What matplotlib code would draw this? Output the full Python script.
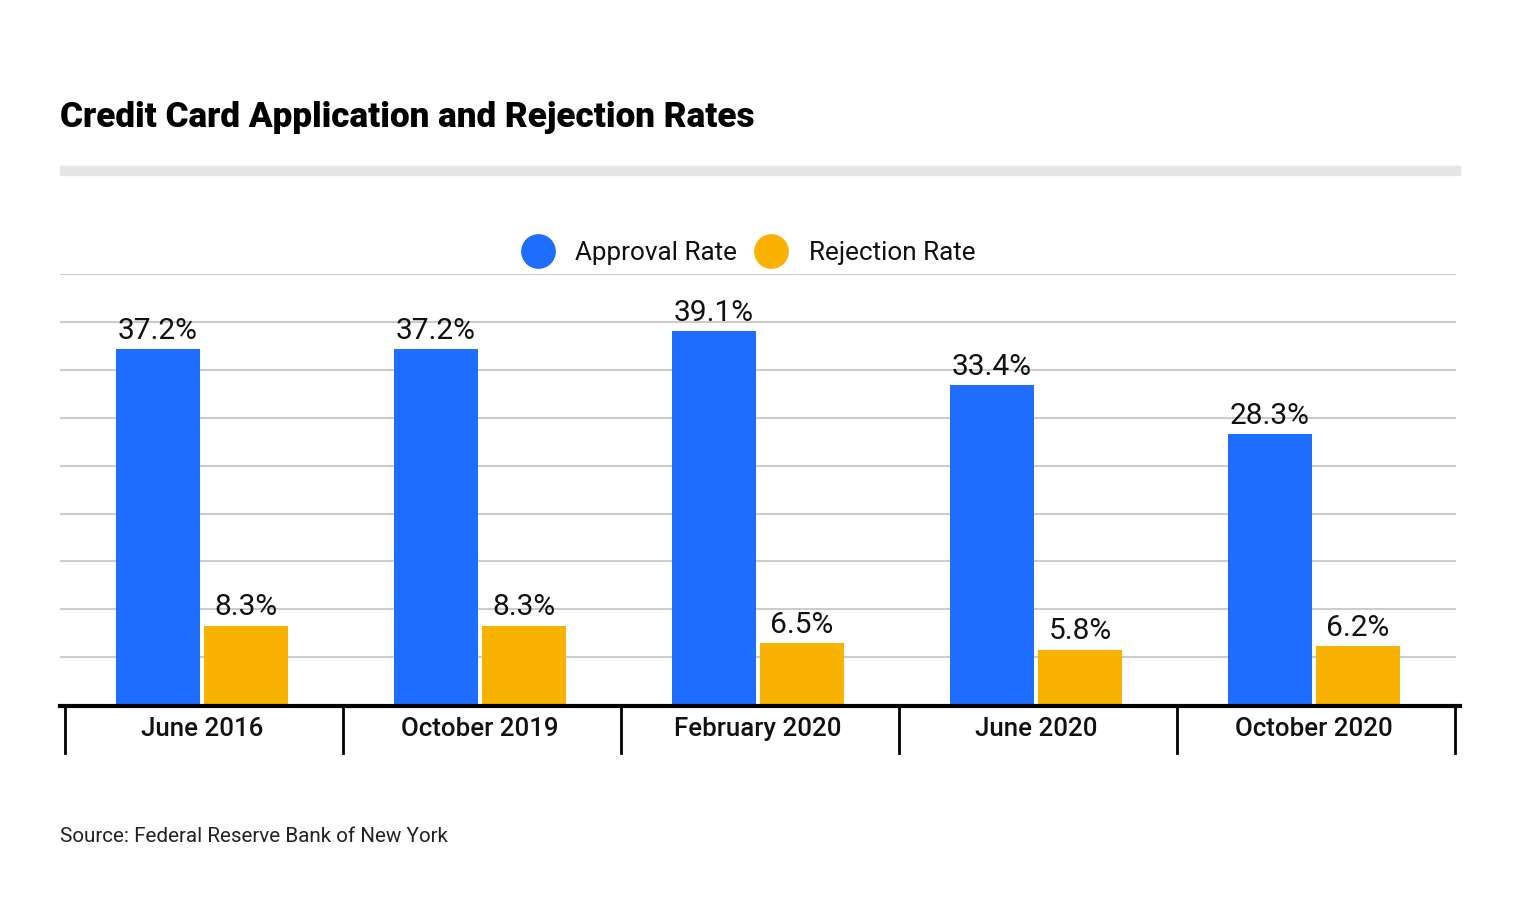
import matplotlib.pyplot as plt
from matplotlib.lines import Line2D
from matplotlib.patches import Rectangle
import numpy as np

plt.rcParams['font.family'] = ['Roboto', 'DejaVu Sans']

periods = ["June 2016", "October 2019", "February 2020", "June 2020", "October 2020"]
approval = [37.2, 37.2, 39.1, 33.4, 28.3]
rejection = [8.3, 8.3, 6.5, 5.8, 6.2]

blue = "#1F6DFF"
gold = "#F9B200"

W, H = 1520, 914
fig = plt.figure(figsize=(W / 100, H / 100), dpi=100)

def fx(px):
    return px / W

def fy(py):
    return 1 - py / H

# plot area in pixels; category centres sit at 202 + 278*i
left, right, bottom, top = 60, 1456, 705, 274.4
step, c0 = 278, 202
ax = fig.add_axes([fx(left), fy(bottom), fx(right - left), (bottom - top) / H])
ax.set_xlim((left - c0) / step, (right - c0) / step)
ax.set_ylim(0, 45)

x = np.arange(len(periods))
width = 84 / step
off = 44 / step
b1 = ax.bar(x - off, approval, width, color=blue, zorder=3)
b2 = ax.bar(x + off, rejection, width, color=gold, zorder=3)

for bars, vals in [(b1, approval), (b2, rejection)]:
    for rect, v in zip(bars, vals):
        ax.annotate(f"{v}%", (rect.get_x() + rect.get_width() / 2, v),
                    xytext=(0, 3), textcoords="offset points",
                    ha="center", va="bottom", fontsize=21.5, color="#111111")

ax.set_yticks(np.arange(5, 50, 5))
ax.yaxis.grid(True, color="#CCCCCC", linewidth=1.5, zorder=0)
ax.tick_params(left=False, bottom=False, labelleft=False, labelbottom=False)
for s in ax.spines.values():
    s.set_visible(False)

# category separators and labels under the baseline
sep_shift = 2 / step
for i in range(len(periods) + 1):
    xs = i - 0.5 + sep_shift
    ax.plot([xs, xs], [0, -5.0], color="black", linewidth=2, clip_on=False)
for i, p in enumerate(periods):
    ax.text(i, -2.5, p, ha="center", va="center", fontsize=18.6,
            fontweight="medium", color="#111111")

# baseline
fig.add_artist(Line2D([fx(60), fx(1460)], [fy(706), fy(706)], color="black",
                      linewidth=3, transform=fig.transFigure))

# title and grey rule
fig.text(fx(60), fy(117), "Credit Card Application and Rejection Rates",
         fontsize=25.3, fontweight="black", va="center", ha="left")
fig.add_artist(Rectangle((fx(60), fy(175)), fx(1400), 9 / H, color="#E5E5E5",
                         transform=fig.transFigure))

# legend
for cx, tx, col, lab in [(538, 575, blue, "Approval Rate"), (771, 809, gold, "Rejection Rate")]:
    fig.add_artist(Line2D([fx(cx)], [fy(251)], marker="o", markersize=24,
                          color=col, linestyle="none", transform=fig.transFigure))
    fig.text(fx(tx), fy(253), lab, fontsize=18.8, va="center", ha="left", color="#111111")

fig.text(fx(60), fy(836), "Source: Federal Reserve Bank of New York",
         fontsize=14.9, va="center", ha="left", color="#222222")

fig.savefig("out.png", dpi=100, facecolor="white")
